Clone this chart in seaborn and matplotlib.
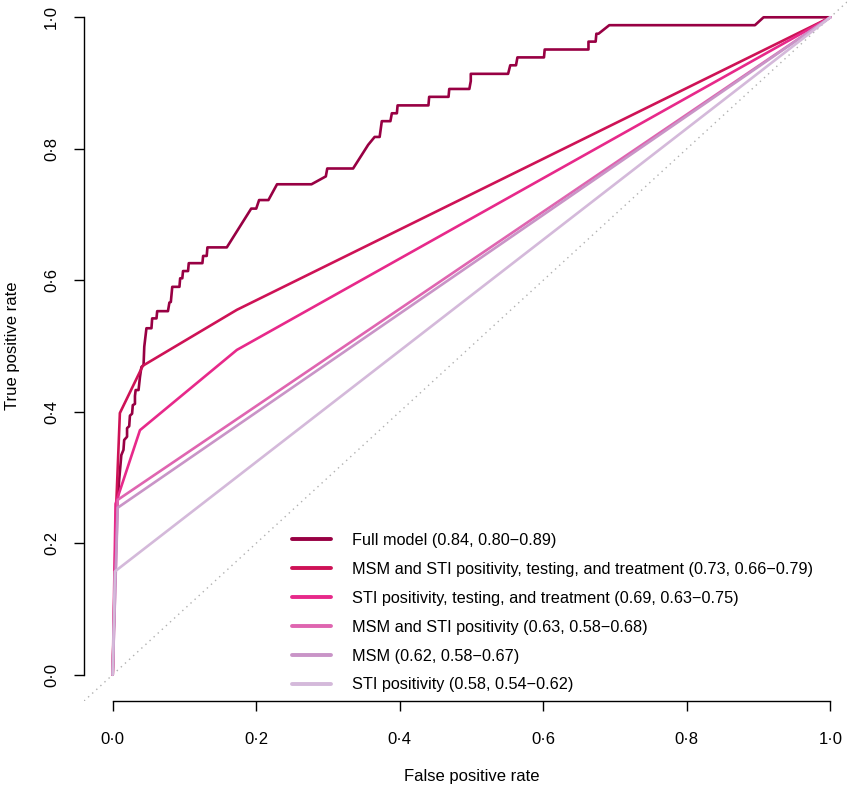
import numpy as np
import pandas as pd
import matplotlib
matplotlib.use("Agg")
import matplotlib.pyplot as plt
from matplotlib.lines import Line2D
import seaborn as sns

# ---------------- data ----------------
full_fpr = [0, 0.003, 0.006, 0.009, 0.012, 0.015, 0.016, 0.020, 0.020, 0.023, 0.024, 0.027, 0.028,
            0.031, 0.031, 0.032, 0.036, 0.038, 0.040, 0.043, 0.044, 0.047, 0.054, 0.055, 0.061,
            0.062, 0.077, 0.079, 0.081, 0.083, 0.093, 0.094, 0.097, 0.098, 0.105, 0.106, 0.125,
            0.126, 0.131, 0.132, 0.159, 0.193, 0.200, 0.204, 0.217, 0.229, 0.277, 0.297, 0.299,
            0.335, 0.356, 0.365, 0.372, 0.375, 0.387, 0.389, 0.396, 0.397, 0.440, 0.441, 0.468,
            0.469, 0.497, 0.499, 0.499, 0.551, 0.554, 0.562, 0.564, 0.601, 0.602, 0.663, 0.663,
            0.673, 0.674, 0.677, 0.692, 0.895, 0.907, 1.0]
full_tpr = [0, 0.144, 0.251, 0.296, 0.334, 0.342, 0.357, 0.362, 0.375, 0.378, 0.394, 0.397, 0.410,
            0.412, 0.424, 0.433, 0.433, 0.453, 0.468, 0.471, 0.499, 0.527, 0.527, 0.542, 0.542,
            0.553, 0.553, 0.566, 0.567, 0.590, 0.590, 0.603, 0.603, 0.614, 0.614, 0.626, 0.626,
            0.637, 0.637, 0.650, 0.650, 0.709, 0.709, 0.722, 0.722, 0.746, 0.746, 0.758, 0.770,
            0.770, 0.806, 0.818, 0.818, 0.842, 0.842, 0.854, 0.854, 0.866, 0.866, 0.879, 0.879,
            0.891, 0.891, 0.903, 0.914, 0.914, 0.927, 0.927, 0.939, 0.939, 0.951, 0.951, 0.963,
            0.963, 0.975, 0.975, 0.988, 0.988, 1.0, 1.0]

msm_sti_tt_fpr = [0, 0.005, 0.010, 0.042, 0.173, 1.0]
msm_sti_tt_tpr = [0, 0.260, 0.398, 0.470, 0.555, 1.0]

sti_tt_fpr = [0, 0.004, 0.038, 0.173, 1.0]
sti_tt_tpr = [0, 0.260, 0.372, 0.494, 1.0]

msm_sti_fpr = [0, 0.007, 1.0]
msm_sti_tpr = [0, 0.266, 1.0]

msm_fpr = [0, 0.007, 1.0]
msm_tpr = [0, 0.254, 1.0]

sti_fpr = [0, 0.003, 1.0]
sti_tpr = [0, 0.157, 1.0]

labels = [
    "Full model (0.84, 0.80\u22120.89)",
    "MSM and STI positivity, testing, and treatment (0.73, 0.66\u22120.79)",
    "STI positivity, testing, and treatment (0.69, 0.63\u22120.75)",
    "MSM and STI positivity (0.63, 0.58\u22120.68)",
    "MSM (0.62, 0.58\u22120.67)",
    "STI positivity (0.58, 0.54\u22120.62)",
]
colors = ["#980043", "#ce1256", "#e7298a", "#df65b0", "#c994c7", "#d4b9da"]
tick_values = [0.0, 0.2, 0.4, 0.6, 0.8, 1.0]
tick_labels = ["0\u00b70", "0\u00b72", "0\u00b74", "0\u00b76", "0\u00b78", "1\u00b70"]

series = [(full_fpr, full_tpr), (msm_sti_tt_fpr, msm_sti_tt_tpr), (sti_tt_fpr, sti_tt_tpr),
          (msm_sti_fpr, msm_sti_tpr), (msm_fpr, msm_tpr), (sti_fpr, sti_tpr)]

rows = []
for lab, (fx, fy) in zip(labels, series):
    for i, (a, b) in enumerate(zip(fx, fy)):
        rows.append({"model": lab, "fpr": a, "tpr": b, "order": i})
df = pd.DataFrame(rows)

# ---------------- style ----------------
sns.set_theme(style="white")
plt.rcParams["font.family"] = ["Liberation Sans", "DejaVu Sans"]
FS = 12
LFS = 11.7

fig = plt.figure(figsize=(8.47, 7.90), dpi=100)
W, H = 847, 790
ax = fig.add_axes([84 / W, (H - 701) / H, (859 - 84) / W, (701 + 9) / H])

ax.axline((0, 0), (1, 1), color="#b0b0b0", lw=1.0, ls=(0, (1, 3)), zorder=1)

for lab, col in zip(labels, colors):
    sub = df[df["model"] == lab]
    sns.lineplot(data=sub, x="fpr", y="tpr", sort=False, estimator=None,
                 color=col, lw=1.9, ax=ax, legend=False, zorder=3)

ax.set_xlim(-0.04, 1.04)
ax.set_ylim(-0.04, 1.04)
for s in ["top", "right"]:
    ax.spines[s].set_visible(False)
for s in ["left", "bottom"]:
    ax.spines[s].set_color("black")
    ax.spines[s].set_linewidth(1.0)
    ax.spines[s].set_bounds(0, 1)

ax.set_xticks(tick_values)
ax.set_xticklabels(tick_labels, fontsize=FS)
ax.set_yticks(tick_values)
ax.set_yticklabels(tick_labels, fontsize=FS, rotation=90, va="center")
ax.tick_params(axis="both", direction="out", length=7.5, width=1.0, color="black",
               labelcolor="black", bottom=True, left=True)
ax.tick_params(axis="x", pad=14.5)
ax.tick_params(axis="y", pad=10.5)

ax.set_xlabel("False positive rate", fontsize=FS, color="black")
ax.set_ylabel("True positive rate", fontsize=FS, color="black")
ax.xaxis.set_label_coords(0.5, (701 - 769) / 710)
ax.yaxis.set_label_coords((20 - 84) / 775, 0.5)
ax.grid(False)

handles = [Line2D([0], [0], color=c, lw=2.8) for c in colors]
leg = ax.legend(handles, labels, loc="upper left", bbox_to_anchor=(277 / W, (H - 518) / H),
                bbox_transform=fig.transFigure, frameon=False, fontsize=LFS,
                handlelength=2.45, handletextpad=1.25, labelspacing=0.86)
for t in leg.get_texts():
    t.set_color("black")

fig.savefig("out.png", dpi=100)
